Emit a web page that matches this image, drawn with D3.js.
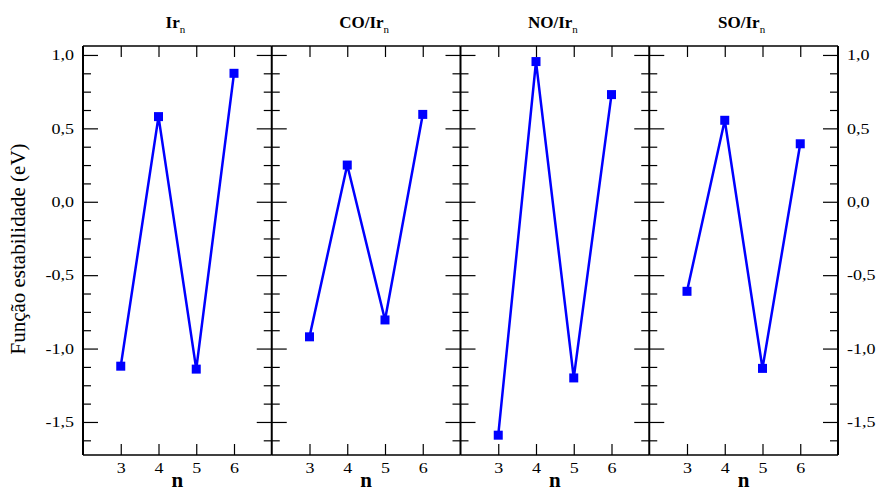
<!DOCTYPE html>
<html>
<head>
<meta charset="utf-8">
<script src="https://cdn.jsdelivr.net/npm/d3@7"></script>
<style>
  html, body { margin: 0; padding: 0; background: #fff; }
  svg, svg text { font-family: "Liberation Serif", "Times New Roman", serif !important; }
</style>
</head>
<body>
<svg id="chart" width="879" height="488"></svg>
<script>
// Cluster sizes on the x axis of every panel
const categories = [3, 4, 5, 6];
const xTickLabels = ["3", "4", "5", "6"];

// Panel titles (base text + subscript)
const panelTitles = ["Ir", "CO/Ir", "NO/Ir", "SO/Ir"];
const titleSubscript = "n";

// Stability function (eV) per cluster size
const irN   = [-1.12, 0.58, -1.14, 0.875];
const coIrN = [-0.92, 0.25, -0.805, 0.595];
const noIrN = [-1.59, 0.955, -1.20, 0.73];
const soIrN = [-0.61, 0.555, -1.135, 0.395];
const series = [irN, coIrN, noIrN, soIrN];

// Y axis ticks
const yMajorTicks = [-1.5, -1.0, -0.5, 0.0, 0.5, 1.0];
const yTickLabels = ["-1,5", "-1,0", "-0,5", "0,0", "0,5", "1,0"];
const yMinorTicks = [-1.625, -1.375, -1.25, -1.125, -0.875, -0.75, -0.625,
                     -0.375, -0.25, -0.125, 0.125, 0.25, 0.375, 0.625, 0.75, 0.875];

const yAxisTitle = "Função estabilidade (eV)";
const xAxisTitle = "n";

const SERIF = "'Liberation Serif', 'Times New Roman', serif";
const WIDEN = 1.2; // tick labels are set slightly wide
const svg = d3.select("#chart");
const plotL = 83, plotR = 838, plotT = 46, plotB = 455;
const nPanels = series.length;
const panelW = (plotR - plotL) / nPanels;

const y = d3.scaleLinear().domain([-1.725, 1.061]).range([plotB, plotT]);
const yLabelOf = d => yTickLabels[yMajorTicks.indexOf(d)];
const xLabelOf = d => xTickLabels[categories.indexOf(d)];

function styleAxis(g, width) {
  g.attr("font-family", SERIF);
  g.selectAll(".tick line").attr("stroke", "#000").attr("stroke-width", width);
  g.selectAll("path.domain").remove();
}

function widenLabels(sel) {
  sel.each(function () {
    const t = d3.select(this);
    const x = +t.attr("x") || 0;
    t.attr("x", x / WIDEN).attr("transform", `scale(${WIDEN},1)`)
      .attr("font-size", 15).attr("fill", "#000");
  });
}

series.forEach((vals, i) => {
  const x0 = plotL + i * panelW, x1 = x0 + panelW;
  const x = d3.scaleLinear().domain([2, 7]).range([x0, x1]);
  const g = svg.append("g");

  // top and bottom x ticks (pointing inward)
  g.append("g").attr("transform", `translate(0,${plotT})`)
    .call(d3.axisTop(x).tickValues(categories).tickSize(-11).tickFormat(""))
    .call(a => styleAxis(a, 1.2));
  const xb = g.append("g").attr("transform", `translate(0,${plotB})`)
    .call(d3.axisBottom(x).tickValues(categories).tickSize(-11).tickPadding(7).tickFormat(xLabelOf))
    .call(a => styleAxis(a, 1.2));
  widenLabels(xb.selectAll("text"));

  // inward y ticks on both sides of the panel
  [[d3.axisRight, x0], [d3.axisLeft, x1]].forEach(([axisFn, xp]) => {
    g.append("g").attr("transform", `translate(${xp},0)`)
      .call(axisFn(y).tickValues(yMinorTicks).tickSize(8).tickFormat(""))
      .call(a => styleAxis(a, 1.2));
    g.append("g").attr("transform", `translate(${xp},0)`)
      .call(axisFn(y).tickValues(yMajorTicks).tickSize(15).tickFormat(""))
      .call(a => styleAxis(a, 1.2));
  });

  // horizontal frame
  g.append("line").attr("x1", x0).attr("x2", x1).attr("y1", plotT).attr("y2", plotT)
    .attr("stroke", "#000").attr("stroke-width", 1.5);
  g.append("line").attr("x1", x0).attr("x2", x1).attr("y1", plotB).attr("y2", plotB)
    .attr("stroke", "#000").attr("stroke-width", 1.5);

  // data line and square markers
  const pts = categories.map((c, k) => [c, vals[k]]);
  g.append("path").datum(pts)
    .attr("fill", "none").attr("stroke", "#0000ff").attr("stroke-width", 2.5)
    .attr("d", d3.line().x(d => x(d[0])).y(d => y(d[1])));
  g.selectAll("rect.mk").data(pts).enter().append("rect")
    .attr("class", "mk")
    .attr("x", d => x(d[0]) - 4.5).attr("y", d => y(d[1]) - 4.5)
    .attr("width", 9).attr("height", 9).attr("fill", "#0000ff");

  // panel title with subscript
  const t = svg.append("text").attr("x", (x0 + x1) / 2 - 2).attr("y", 28)
    .attr("text-anchor", "middle").attr("font-size", 17).attr("font-weight", "bold")
    .attr("font-family", SERIF);
  t.append("tspan").text(panelTitles[i]);
  t.append("tspan").attr("font-size", 11).attr("font-weight", "normal").attr("dy", 5).text(titleSubscript);

  // x axis title
  svg.append("text").attr("x", (x0 + x1) / 2).attr("y", 487)
    .attr("text-anchor", "middle").attr("font-size", 21).attr("font-weight", "bold")
    .attr("font-family", SERIF).text(xAxisTitle);
});

// vertical frame lines / panel dividers
d3.range(nPanels + 1).forEach(i => {
  const xp = plotL + i * panelW;
  svg.append("line").attr("x1", xp).attr("x2", xp).attr("y1", plotT).attr("y2", plotB)
    .attr("stroke", "#000").attr("stroke-width", 2);
});

// y tick labels on the outer left and right
const leftLab = svg.append("g").attr("transform", `translate(${plotL},0)`)
  .call(d3.axisLeft(y).tickValues(yMajorTicks).tickSize(0).tickPadding(9).tickFormat(yLabelOf));
const rightLab = svg.append("g").attr("transform", `translate(${plotR},0)`)
  .call(d3.axisRight(y).tickValues(yMajorTicks).tickSize(0).tickPadding(9).tickFormat(yLabelOf));
[leftLab, rightLab].forEach(a => {
  a.attr("font-family", SERIF);
  a.selectAll("path.domain").remove();
  widenLabels(a.selectAll("text"));
});

// y axis title
svg.append("text").attr("transform", "translate(25,249) rotate(-90)")
  .attr("text-anchor", "middle").attr("font-size", 21).attr("font-family", SERIF)
  .text(yAxisTitle);
</script>
</body>
</html>
